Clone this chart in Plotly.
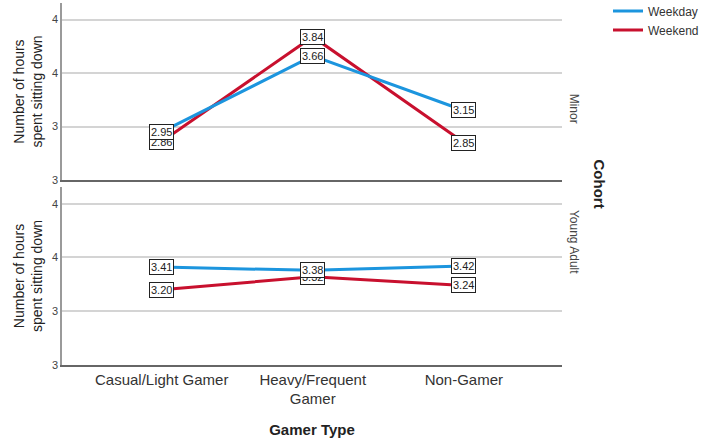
import plotly.graph_objects as go

categories = ["Casual/Light Gamer", "Heavy/Frequent<br>Gamer", "Non-Gamer"]
cohorts = ["Minor", "Young Adult"]
minor_weekday = [2.95, 3.66, 3.15]
minor_weekend = [2.86, 3.84, 2.85]
young_weekday = [3.41, 3.38, 3.42]
young_weekend = [3.20, 3.32, 3.24]
tick_vals = [2.5, 3.0, 3.5, 4.0]
tick_text = ["3", "3", "4", "4"]

BLUE = "#1c95de"
RED = "#c8102e"
FONT = "Arial, Liberation Sans, sans-serif"

fig = go.Figure()
panels = [("y", "x", minor_weekday, minor_weekend, True),
          ("y2", "x2", young_weekday, young_weekend, False)]
for yref, xref, wd, we, show in panels:
    fig.add_trace(go.Scatter(x=categories, y=we, mode="lines", name="Weekend",
                             line=dict(color=RED, width=3), xaxis=xref, yaxis=yref,
                             showlegend=show, legendrank=2))
    fig.add_trace(go.Scatter(x=categories, y=wd, mode="lines", name="Weekday",
                             line=dict(color=BLUE, width=3), xaxis=xref, yaxis=yref,
                             showlegend=show, legendrank=1))

annotations = []
for yref, xref, wd, we, _ in panels:
    for series in (we, wd):
        for c, v in zip(categories, series):
            annotations.append(dict(x=c, y=v, xref=xref, yref=yref, text=f"{v:.2f}",
                                    showarrow=False, bgcolor="white", bordercolor="#222",
                                    borderwidth=1, borderpad=1,
                                    font=dict(family=FONT, size=11, color="#222")))

annotations += [
    dict(x=1.042, y=0.755, xref="paper", yref="paper", text="Minor", textangle=90,
         showarrow=False, font=dict(family=FONT, size=12, color="#444")),
    dict(x=1.042, y=0.246, xref="paper", yref="paper", text="Young Adult", textangle=90,
         showarrow=False, font=dict(family=FONT, size=12, color="#444")),
    dict(x=1.096, y=0.5, xref="paper", yref="paper", text="<b>Cohort</b>", textangle=90,
         showarrow=False, font=dict(family=FONT, size=15, color="#222")),
]

yaxis_common = dict(range=[2.5, 4.155], tickvals=tick_vals, ticktext=tick_text,
                    showgrid=True, gridcolor="#d4d4d4", gridwidth=1.5,
                    showline=True, linecolor="#9a9a9a", linewidth=1.5,
                    zeroline=False, ticks="", tickfont=dict(family=FONT, size=11, color="#444"),
                    title=dict(text="Number of hours<br>spent sitting down", standoff=6,
                               font=dict(family=FONT, size=14, color="#222")))
xaxis_common = dict(range=[-0.66, 2.65], showline=True, linecolor="#666", linewidth=1.5,
                    showgrid=False, zeroline=False, ticks="")

fig.update_layout(
    width=708, height=444,
    margin=dict(l=62, r=146, t=3, b=79, autoexpand=False),
    paper_bgcolor="white", plot_bgcolor="white",
    xaxis=dict(**xaxis_common, domain=[0, 1], anchor="y", showticklabels=False),
    yaxis=dict(**yaxis_common, domain=[0.511, 1], anchor="x"),
    xaxis2=dict(**xaxis_common, domain=[0, 1], anchor="y2",
                tickfont=dict(family=FONT, size=15, color="#333"),
                title=dict(text="<b>Gamer Type</b>", standoff=18,
                           font=dict(family=FONT, size=15, color="#222"))),
    yaxis2=dict(**yaxis_common, domain=[0, 0.4917], anchor="x2"),
    legend=dict(x=1.092, y=1.018, xanchor="left", yanchor="top", bgcolor="rgba(0,0,0,0)",
                font=dict(family=FONT, size=12, color="#333"), itemwidth=30,
                tracegroupgap=0),
    annotations=annotations,
    showlegend=True,
)

fig.write_html("out.html", config={"displayModeBar": False},
               post_script="document.body.style.margin='0px';")
